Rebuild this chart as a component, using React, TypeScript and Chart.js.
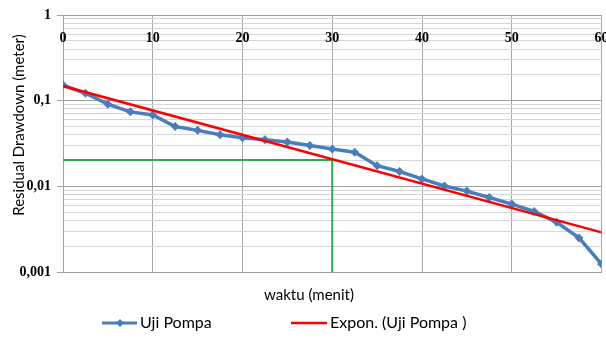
import React, { useEffect, useRef } from "react";
import { Chart, registerables } from "chart.js";

Chart.register(...registerables);

// waktu (menit)
const xValues = [0, 2.5, 5, 7.5, 10, 12.5, 15, 17.5, 20, 22.5, 25, 27.5, 30, 32.5, 35, 37.5, 40, 42.5, 45, 47.5, 50, 52.5, 55, 57.5, 60];
// Residual drawdown (meter)
const drawdown = [0.152, 0.122, 0.091, 0.074, 0.068, 0.05, 0.045, 0.04, 0.037, 0.035, 0.033, 0.03, 0.0273, 0.025, 0.0174, 0.0149, 0.0122, 0.0101, 0.0088, 0.0074, 0.0062, 0.0051, 0.0038, 0.0025, 0.00124];
// exponential trendline end points
const trendX = [0, 60];
const trendY = [0.148, 0.0029];
// green guide lines
const guideX = [0, 30, 30];
const guideY = [0.0203, 0.0203, 0.001];
// y axis major ticks
const yTickValues = [0.001, 0.01, 0.1, 1];
const yTickLabels = ["0,001", "0,01", "0,1", "1"];
const xTickStep = 10;

const isMajor = (v: number) => Math.abs(Math.log10(v) - Math.round(Math.log10(v))) < 1e-9;

export default function App() {
  const ref = useRef<HTMLCanvasElement>(null);
  useEffect(() => {
    document.body.style.margin = "0";
    const canvas = ref.current!;
    const pts = (xs: number[], ys: number[]) => xs.map((x, i) => ({ x, y: ys[i] }));

    const overlay = {
      id: "overlay",
      afterDraw(chart: any) {
        const ctx = chart.ctx as CanvasRenderingContext2D;
        const area = chart.chartArea;
        const xs = chart.scales.x;
        ctx.save();
        // x tick labels inside plot
        ctx.fillStyle = "#000";
        ctx.font = "bold 14px 'Liberation Serif'";
        ctx.textAlign = "center";
        ctx.textBaseline = "middle";
        xs.ticks.forEach((t: any) => {
          ctx.fillText(String(t.value), xs.getPixelForValue(t.value), area.top + 23);
        });
        // axis titles
        ctx.font = "15px Lato";
        ctx.fillText("waktu (menit)", 309, 295);
        ctx.save();
        ctx.translate(19, 125);
        ctx.rotate(-Math.PI / 2);
        ctx.fillText("Residual Drawdown (meter)", 0, 0);
        ctx.restore();
        // legend
        const ly = 323;
        ctx.lineWidth = 3;
        ctx.strokeStyle = "#4a7ebb";
        ctx.beginPath();
        ctx.moveTo(102, ly);
        ctx.lineTo(137, ly);
        ctx.stroke();
        ctx.fillStyle = "#4a7ebb";
        ctx.beginPath();
        ctx.moveTo(120, ly - 4);
        ctx.lineTo(124, ly);
        ctx.lineTo(120, ly + 4);
        ctx.lineTo(116, ly);
        ctx.closePath();
        ctx.fill();
        ctx.strokeStyle = "#ff0000";
        ctx.lineWidth = 2.5;
        ctx.beginPath();
        ctx.moveTo(291, ly);
        ctx.lineTo(327, ly);
        ctx.stroke();
        ctx.fillStyle = "#000";
        ctx.textAlign = "left";
        ctx.font = "16px Lato";
        ctx.fillText("Uji Pompa", 140, ly);
        ctx.fillText("Expon. (Uji Pompa )", 330, ly);
        ctx.restore();
      },
    };

    const chart = new Chart(canvas, {
      type: "line",
      data: {
        datasets: [
          {
            label: "Uji Pompa",
            data: pts(xValues, drawdown),
            borderColor: "#4a7ebb",
            backgroundColor: "#4a7ebb",
            borderWidth: 3.5,
            pointStyle: "rectRot",
            pointRadius: 4.5,
            pointBorderWidth: 0,
            order: 2,
          },
          {
            label: "Expon. (Uji Pompa )",
            data: pts(trendX, trendY),
            borderColor: "#ff0000",
            borderWidth: 2.5,
            pointRadius: 0,
            order: 1,
          },
          {
            label: "guide",
            data: pts(guideX, guideY),
            borderColor: "#2fa853",
            borderWidth: 2,
            pointRadius: 0,
            order: 3,
          },
        ],
      },
      options: {
        responsive: false,
        animation: false,
        layout: { padding: { left: 0, top: 15, right: 3, bottom: 70 } },
        plugins: { legend: { display: false }, tooltip: { enabled: false } },
        scales: {
          x: {
            type: "linear",
            min: 0,
            max: 60,
            ticks: { stepSize: xTickStep, display: false },
            grid: { color: "#a8a8a8", drawTicks: false, lineWidth: 1 },
            border: { color: "#a0a0a0" },
          },
          y: {
            type: "logarithmic",
            min: 0.001,
            max: 1,
            afterBuildTicks: (scale: any) => {
              const ticks: any[] = [];
              for (let d = 0; d < yTickValues.length - 1; d++) {
                for (let m = 1; m <= 9; m++) ticks.push({ value: yTickValues[d] * m });
              }
              ticks.push({ value: yTickValues[yTickValues.length - 1] });
              scale.ticks = ticks;
            },
            afterFit: (scale: any) => {
              scale.width = 63;
            },
            ticks: {
              autoSkip: false,
              padding: 6,
              color: "#000",
              font: { family: "'Liberation Serif'", size: 14, weight: "bold" },
              callback: (v: any) => {
                const i = yTickValues.findIndex((t) => Math.abs(t - v) / t < 1e-9);
                return i >= 0 ? yTickLabels[i] : "";
              },
            },
            grid: {
              color: (c: any) => (c.tick && isMajor(c.tick.value) ? "#a0a0a0" : "#d6d6d6"),
              tickColor: (c: any) => (c.tick && isMajor(c.tick.value) ? "#a0a0a0" : "rgba(0,0,0,0)"),
              tickLength: 6,
            },
            border: { color: "#a0a0a0" },
          },
        },
      },
      plugins: [overlay],
    } as any);
    return () => chart.destroy();
  }, []);
  return <canvas ref={ref} width={606} height={342} style={{ display: "block" }} />;
}
